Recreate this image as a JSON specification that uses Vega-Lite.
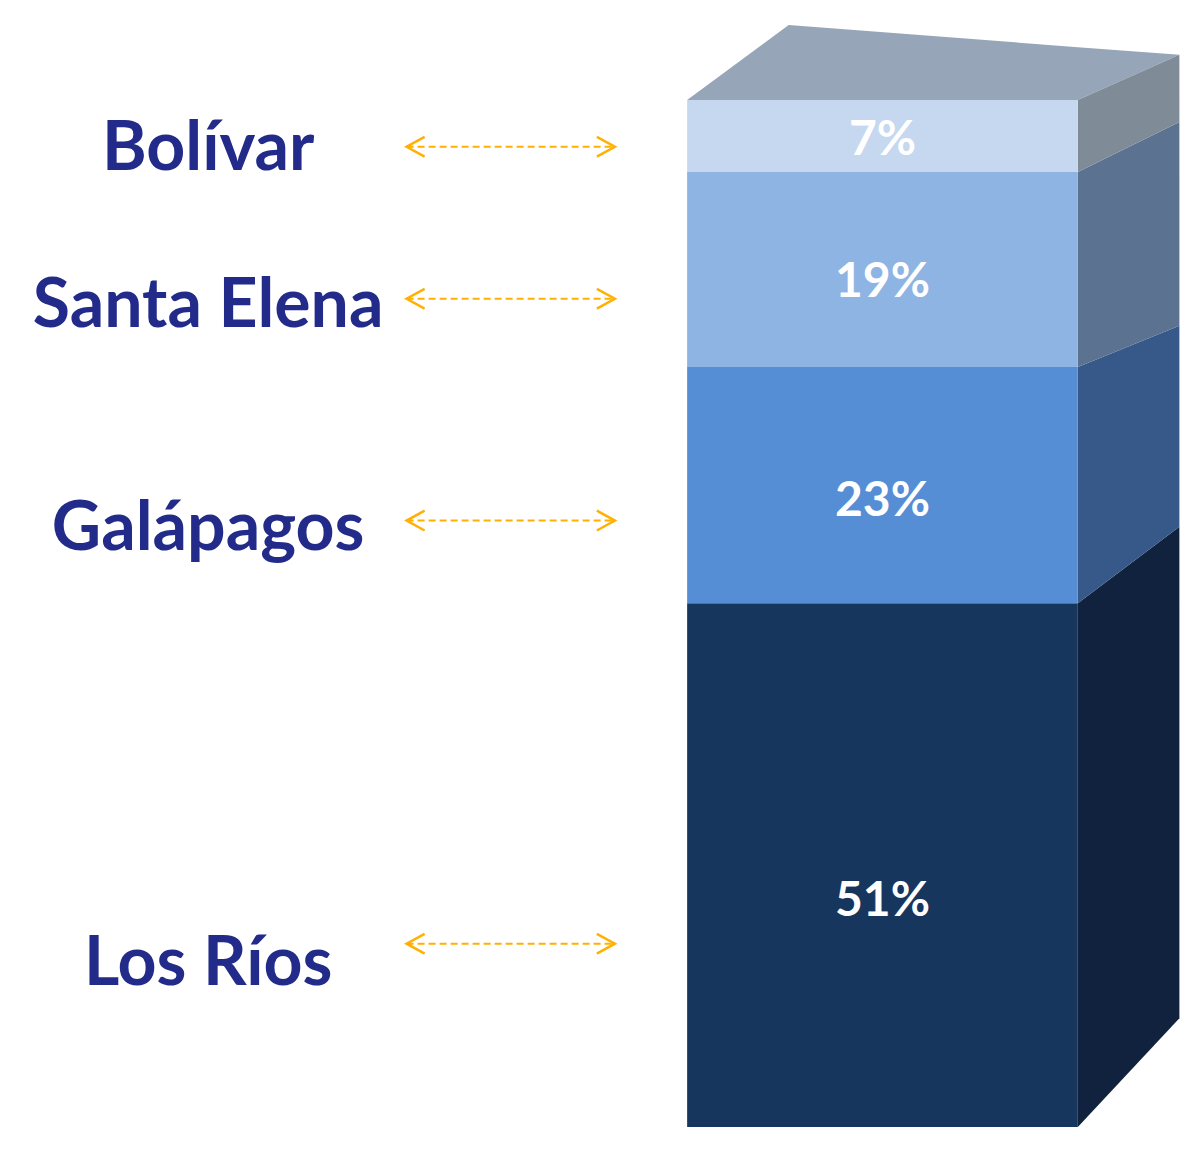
{
  "$schema": "https://vega.github.io/schema/vega-lite/v6.json",
  "width": 1184,
  "height": 1150,
  "autosize": {"type": "none"},
  "padding": 0,
  "background": "white",
  "config": {"view": {"stroke": null}},
  "datasets": {
    "shares": [
      {"region": "Los Ríos", "pct": 0.51, "order": 1},
      {"region": "Galápagos", "pct": 0.23, "order": 2},
      {"region": "Santa Elena", "pct": 0.19, "order": 3},
      {"region": "Bolívar", "pct": 0.07, "order": 4}
    ],
    "side": [
      {"region": "Los Ríos", "d": 100, "lo": 0, "hi": 0.51},
      {"region": "Los Ríos", "d": 126, "lo": 0.1058, "hi": 0.5844},
      {"region": "Galápagos", "d": 100, "lo": 0.51, "hi": 0.74},
      {"region": "Galápagos", "d": 126, "lo": 0.5844, "hi": 0.7803},
      {"region": "Santa Elena", "d": 100, "lo": 0.74, "hi": 0.93},
      {"region": "Santa Elena", "d": 126, "lo": 0.7803, "hi": 0.9786},
      {"region": "Bolívar", "d": 100, "lo": 0.93, "hi": 1.0},
      {"region": "Bolívar", "d": 126, "lo": 0.9786, "hi": 1.044}
    ],
    "top": [
      {"d": 0, "lo": 1.0, "hi": 1.0},
      {"d": 26, "lo": 1.0, "hi": 1.073},
      {"d": 100, "lo": 1.0, "hi": 1.0515},
      {"d": 126, "lo": 1.044, "hi": 1.044}
    ]
  },
  "layer": [
    {
      "data": {"name": "top"},
      "mark": {"type": "area", "color": "#97a5b8", "opacity": 1},
      "encoding": {
        "x": {"field": "d", "type": "quantitative", "axis": null, "scale": {"domain": [-174.6, 125.9], "nice": false, "zero": false}},
        "y": {"field": "lo", "type": "quantitative", "axis": null, "scale": {"domain": [-0.0224, 1.0974], "nice": false, "zero": false}},
        "y2": {"field": "hi"}
      }
    },
    {
      "data": {"name": "side"},
      "mark": {"type": "area", "opacity": 1},
      "encoding": {
        "x": {"field": "d", "type": "quantitative", "axis": null, "scale": {"domain": [-174.6, 125.9], "nice": false, "zero": false}},
        "y": {"field": "lo", "type": "quantitative", "axis": null, "scale": {"domain": [-0.0224, 1.0974], "nice": false, "zero": false}},
        "y2": {"field": "hi"},
        "detail": {"field": "region"},
        "color": {"field": "region", "type": "nominal", "legend": null,
          "scale": {"domain": ["Los Ríos", "Galápagos", "Santa Elena", "Bolívar"], "range": ["#10223d", "#37598a", "#5b7291", "#808b98"]}}
      }
    },
    {
      "data": {"name": "shares"},
      "layer": [
        {
          "mark": {"type": "bar", "orient": "vertical", "opacity": 1},
          "encoding": {
            "x": {"datum": 0, "type": "quantitative", "axis": null, "scale": {"domain": [-174.6, 125.9], "nice": false, "zero": false}},
            "x2": {"datum": 100},
            "y": {"field": "pct", "type": "quantitative", "stack": "zero", "axis": null, "scale": {"domain": [-0.0224, 1.0974], "nice": false, "zero": false}},
            "order": {"field": "order", "type": "quantitative"},
            "detail": {"field": "region"},
            "color": {"field": "region", "type": "nominal", "legend": null,
              "scale": {"domain": ["Los Ríos", "Galápagos", "Santa Elena", "Bolívar"], "range": ["#17365d", "#558ed5", "#8db4e2", "#c6d8f0"]}}
          }
        },
        {
          "mark": {"type": "text", "font": "Lato", "fontWeight": "bold", "fontSize": 48, "color": "white", "align": "center", "baseline": "middle"},
          "encoding": {
            "x": {"datum": 50, "type": "quantitative", "axis": null, "scale": {"domain": [-174.6, 125.9], "nice": false, "zero": false}},
            "y": {"field": "pct", "type": "quantitative", "stack": "zero", "bandPosition": 0.43, "axis": null, "scale": {"domain": [-0.0224, 1.0974], "nice": false, "zero": false}},
            "order": {"field": "order", "type": "quantitative"},
            "detail": {"field": "region"},
            "text": {"field": "pct", "type": "quantitative", "format": ".0%"}
          }
        },
        {
          "mark": {"type": "text", "font": "Lato", "fontWeight": "bold", "fontSize": 68, "color": "#232b8a", "align": "center", "baseline": "middle"},
          "encoding": {
            "x": {"datum": -122.6, "type": "quantitative", "axis": null, "scale": {"domain": [-174.6, 125.9], "nice": false, "zero": false}},
            "y": {"field": "pct", "type": "quantitative", "stack": "zero", "bandPosition": 0.31, "axis": null, "scale": {"domain": [-0.0224, 1.0974], "nice": false, "zero": false}},
            "order": {"field": "order", "type": "quantitative"},
            "detail": {"field": "region"},
            "text": {"field": "region", "type": "nominal"}
          }
        },
        {
          "mark": {"type": "rule", "color": "#ffb000", "strokeWidth": 2, "strokeDash": [7, 4]},
          "encoding": {
            "x": {"datum": -71.8, "type": "quantitative", "axis": null, "scale": {"domain": [-174.6, 125.9], "nice": false, "zero": false}},
            "x2": {"datum": -18.5},
            "y": {"field": "pct", "type": "quantitative", "stack": "zero", "bandPosition": 0.35, "axis": null, "scale": {"domain": [-0.0224, 1.0974], "nice": false, "zero": false}},
            "order": {"field": "order", "type": "quantitative"},
            "detail": {"field": "region"}
          }
        },
        {
          "mark": {"type": "point", "shape": "M 1 -0.55 L 0 0 L 1 0.55", "filled": false, "stroke": "#ffb000", "strokeWidth": 2.5, "size": 1296, "opacity": 1},
          "encoding": {
            "x": {"datum": -71.8, "type": "quantitative", "axis": null, "scale": {"domain": [-174.6, 125.9], "nice": false, "zero": false}},
            "y": {"field": "pct", "type": "quantitative", "stack": "zero", "bandPosition": 0.35, "axis": null, "scale": {"domain": [-0.0224, 1.0974], "nice": false, "zero": false}},
            "order": {"field": "order", "type": "quantitative"},
            "detail": {"field": "region"}
          }
        },
        {
          "mark": {"type": "point", "shape": "M -1 -0.55 L 0 0 L -1 0.55", "filled": false, "stroke": "#ffb000", "strokeWidth": 2.5, "size": 1296, "opacity": 1},
          "encoding": {
            "x": {"datum": -18.5, "type": "quantitative", "axis": null, "scale": {"domain": [-174.6, 125.9], "nice": false, "zero": false}},
            "y": {"field": "pct", "type": "quantitative", "stack": "zero", "bandPosition": 0.35, "axis": null, "scale": {"domain": [-0.0224, 1.0974], "nice": false, "zero": false}},
            "order": {"field": "order", "type": "quantitative"},
            "detail": {"field": "region"}
          }
        }
      ]
    }
  ],
  "resolve": {"scale": {"color": "independent"}}
}
